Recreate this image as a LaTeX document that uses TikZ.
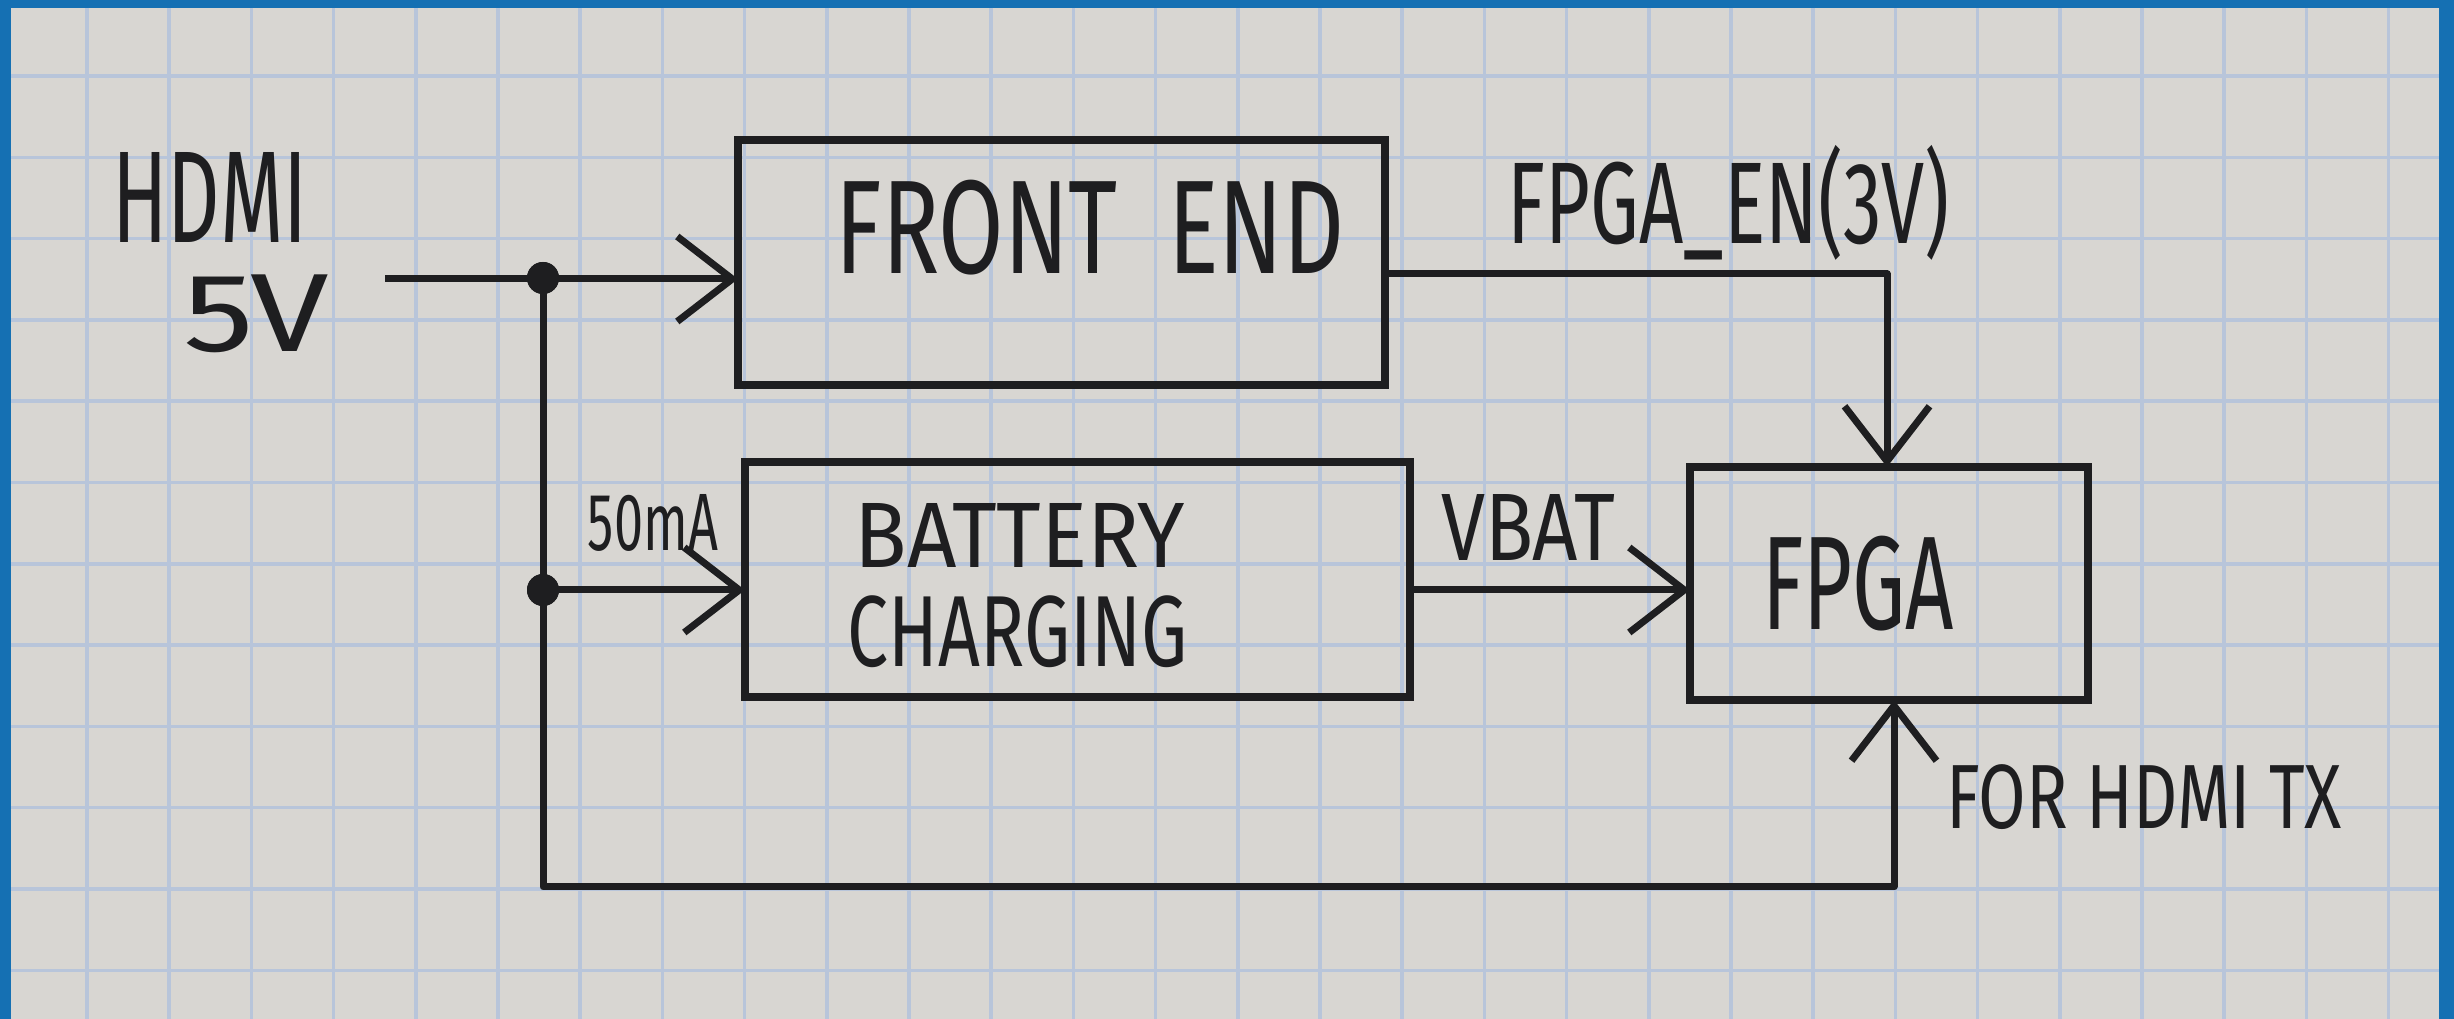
\documentclass[tikz,border=0pt]{standalone}
\usepackage{fontspec}
\setmainfont{Fira Sans}
\usepackage{graphicx}
\usetikzlibrary{arrows.meta}
\definecolor{paper}{RGB}{216,214,210}
\definecolor{gridblue}{RGB}{184,197,218}
\definecolor{frameblue}{RGB}{21,112,179}
\definecolor{ink}{RGB}{30,30,32}
\newcommand{\hwtext}[3]{\resizebox*{#1}{#2}{#3}}
\begin{document}
\begin{tikzpicture}[x=0.1mm,y=-0.1mm,
  blk/.style={draw=ink, line width=0.75mm, inner sep=0pt, outer sep=0pt},
  lbl/.style={text=ink, inner sep=0pt},
  wire/.style={draw=ink, line width=0.7mm, line join=round},
  arr/.style={wire, -{Straight Barb[length=5.5mm,width=8.5mm]}},
  jdot/.style={circle, fill=ink, inner sep=0pt, minimum size=3.2mm},
  gridline/.style={draw=gridblue, line width=0.35mm}]
% paper and frame
\fill[frameblue] (0,0) rectangle (2454,1019);
\fill[paper] (11,8) rectangle (2439,1019);
\begin{scope}
  \clip (11,8) rectangle (2439,1019);
  \foreach \k in {-1,...,29} \draw[gridline] ({87+82.2*\k},8) -- ({87+82.2*\k},1019);
  \foreach \k in {0,...,11} \draw[gridline] (11,{76+81.3*\k}) -- (2439,{76+81.3*\k});
\end{scope}
% blocks
\node[blk, minimum width=64.7mm, minimum height=24.5mm] (fe) at (1061.5,262.5) {};
\node[blk, minimum width=66.5mm, minimum height=23.5mm] (bat) at (1077.5,579.5) {};
\node[blk, minimum width=39.8mm, minimum height=23.3mm] (fpga) at (1889,583.5) {};
% texts
\node[lbl] (thdmi) at (210,198) {\hwtext{19.5mm}{9mm}{HDMI}};
\node[lbl] (t5v) at (256,314) {\hwtext{14.5mm}{7.8mm}{5V}};
\node[lbl] (tfe) at (1090,228) {\hwtext{50.9mm}{9.5mm}{FRONT\ \ END}};
\node[lbl] (tbat1) at (1020,536) {\hwtext{33mm}{6.4mm}{BATTERY}};
\node[lbl] (tbat2) at (1018,632) {\hwtext{34mm}{7.2mm}{CHARGING}};
\node[lbl] (tfpga) at (1858,584) {\hwtext{19.2mm}{9.5mm}{FPGA}};
\node[lbl] (ten) at (1729,203) {\hwtext{44.2mm}{11.5mm}{FPGA\_EN(3V)}};
\node[lbl] (tvbat) at (1528,527) {\hwtext{17.4mm}{6.6mm}{VBAT}};
\node[lbl] (tma) at (653,523) {\hwtext{13mm}{5.7mm}{50mA}};
\node[lbl] (ttx) at (2144,797) {\hwtext{39.6mm}{6.5mm}{FOR HDMI TX}};
% junctions and corners
\node[jdot] (j1) at (543,278) {};
\node[jdot] (j2) at (543,590) {};
\coordinate (hin) at (385,279);
\coordinate (c1) at (545,887);
\coordinate (c2) at (1894,887);
\coordinate (c3) at (1887,274);
\coordinate (c4) at (1410,590);
% connectors
\draw[arr] (hin) -- (fe.west |- hin);
\draw[arr] (j1.center) -- (j1.center |- c1) -- (c2) -- (c2 |- fpga.south);
\draw[arr] (j2.center) -- (bat.west |- j2);
\draw[arr] (fe.east |- c3) -- (c3) -- (c3 |- fpga.north);
\draw[arr] (bat.east |- c4) -- (fpga.west |- c4);
\node[jdot] at (j1) {};
\node[jdot] at (j2) {};
\end{tikzpicture}
\end{document}
